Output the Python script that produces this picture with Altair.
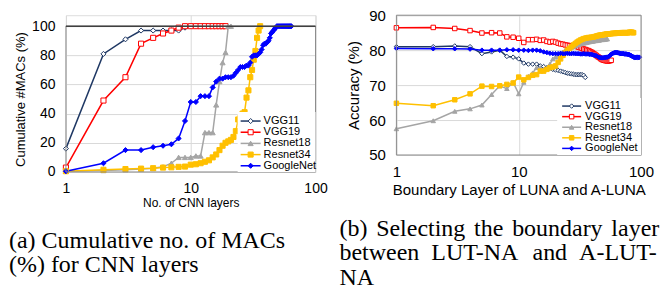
import altair as alt
import pandas as pd

SANS = "Liberation Sans"
SERIF = "Liberation Serif"

SERIES = ["VGG11", "VGG19", "Resnet18", "Resnet34", "GoogleNet"]
COLORS = ["#1F3864", "#FF0000", "#A5A5A5", "#FFC000", "#0000FF"]
SHAPES = ["diamond", "square", "triangle-up", "square", "diamond"]
FILLS = ["#FFFFFF", "#FFFFFF", "#A5A5A5", "#FFC000", "#0000FF"]

# ---- panel (a): cumulative #MACs (%) per layer index 1..n
a_vgg11 = [16, 81, 91, 97, 97, 97, 97, 97, 99, 100, 100]
a_vgg19 = [3, 49, 65, 88, 92, 95, 97, 99, 100, 100, 100, 100, 100, 100, 100, 100, 100, 100, 100]
a_res18 = [0.5, 1, 1.5, 2, 2.5, 3.5, 6, 10, 10, 10, 11, 11, 27, 27, 27, 46, 62, 75, 82, 100, 100]
a_res34 = [0.5, 1.5, 2, 2.3, 2.6, 3, 3.2, 3.5, 3.7, 5, 5.3, 6, 7, 8, 10, 12, 15, 18, 20, 21,
           22, 24, 28, 36, 37, 40, 41, 51, 56, 65, 70, 77, 83, 92, 97, 100]
a_goog = [0.5, 6, 15, 15, 17, 18, 19, 23, 35, 48, 48, 52, 52, 52, 58, 62, 64, 64, 65, 65,
          65, 66, 68, 70, 72, 72, 72, 73, 73, 75, 79, 80, 80, 80, 81, 82, 84, 87, 88, 88,
          89, 90, 92, 95, 96, 97, 98, 99, 100, 100, 100, 100, 100, 100, 100, 100, 100, 100, 100, 100,
          100, 100, 100, 100]

# ---- panel (b): accuracy (%) vs boundary layer 1..n
b_vgg11 = [81, 81, 81.2, 81, 79, 79.5, 80, 78.2, 78, 77.5, 76.3, 76, 76, 76, 75.5, 75.3, 75, 74.8, 74.5, 74.3,
           74.2, 74, 73.8, 73.6, 73.4, 73.3, 73.2, 73.1, 73, 73, 73, 73, 73, 72.8, 72.2]
b_vgg19 = [86.4, 86.5, 86.2, 85.6, 84.9, 85, 84.9, 83.8, 83.7, 83.4, 82.2, 83, 83, 83.1, 82.8, 82.9, 82.5, 82.3, 82.5, 82.3,
           82, 81.8, 81.7, 81.5, 81.4, 81.3, 81.2, 81.2, 81.1, 81, 80.8, 80.7, 80.5, 80.3, 80.2, 80, 79.9, 79.7, 79.5, 79.3,
           79, 78.8, 78.5, 78.2, 78, 77.8, 77.5, 77.3, 77.2, 77.1, 77, 77, 76.9, 76.9, 77, 77, 77.1]
b_res18 = [57.5, 59.8, 62.5, 63.2, 64.3, 67.3, 69.8, 69, 70.8, 67.5, 70.8, 72.5, 73.5, 75, 75, 74.5, 75, 76, 77.5, 78,
           78.5, 79, 79.5, 80, 80.3, 80.5, 80.8, 81, 81.2, 81.5, 81.6, 81.8, 82, 82, 82.1, 82.2, 82.3, 82.4, 82.5, 82.5,
           82.6, 82.7, 82.7, 82.8, 82.8, 82.9, 83, 83, 83, 83.1, 83.1, 83.2, 83.2]
b_res34 = [64.8, 64.1, 65.8, 67.5, 69.7, 69.6, 69.8, 70.2, 70.6, 72.3, 71.5, 72.2, 72.8, 73, 74, 74, 74.5, 75, 75.2, 75.5,
           76.5, 77.5, 78.5, 79.3, 80, 80.5, 81, 81.5, 81.9, 82.3, 82.6, 82.9, 83.1, 83.3, 83.4, 83.5, 83.6, 83.6, 83.7, 83.7,
           83.8, 83.9, 84, 84.1, 84.2, 84.3, 84.3, 84.4, 84.4, 84.5, 84.5, 84.6, 84.6, 84.6, 84.7, 84.7, 84.7, 84.8, 84.8, 84.8,
           84.8, 84.8, 84.9, 84.9, 84.9, 84.9, 84.9, 84.9, 85, 85, 85, 85, 85, 85, 85, 85, 85, 85, 85, 85.1,
           85.1, 85.1, 85.1, 85.1, 85.1, 85, 85]
b_goog = [80.5, 80.4, 80.4, 80.3, 80.0, 80.0, 80.0, 80.1, 80.1, 80.0,
          80.0, 79.9, 80.0, 80.0, 79.8, 79.5, 79.3, 79.1, 79.0, 79.0,
          79.0, 79.1, 79.0, 79.0, 79.1, 79.0, 79.0, 79.1, 79.0, 79.0,
          79.0, 78.9, 78.9, 79.0, 78.9, 78.9, 78.9, 78.8, 78.8, 78.7,
          78.6, 78.5, 78.4, 78.2, 78.0, 77.9, 77.8, 77.8, 77.8, 77.9,
          77.9, 78.0, 78.0, 78.1, 78.3, 78.6, 78.8, 79.0, 79.1, 79.2,
          79.3, 79.3, 79.3, 79.3, 79.2, 79.2, 79.1, 79.0, 79.0, 79.0,
          79.0, 79.0, 78.9, 78.9, 78.9, 78.9, 78.8, 78.8, 78.8, 78.7,
          78.6, 78.5, 78.4, 78.3, 78.2, 78.1, 78.0, 78.0, 77.9, 77.9,
          77.9, 78.0, 78.0, 78.0, 77.9, 77.9, 78.0]

# captions: each line is a list of words (justified lines are spread over the column width)
CAPTION_A = [["(a) Cumulative no. of MACs"], ["(%) for CNN layers"]]
CAPTION_B = [["(b)", "Selecting", "the", "boundary", "layer"],
             ["between", "LUT-NA", "and", "A-LUT-"],
             ["NA"]]


def long_df(lists):
    rows = []
    for k, (name, vals) in enumerate(zip(SERIES, lists)):
        for i, v in enumerate(vals, start=1):
            rows.append({"series": name, "k": k, "layer": i, "value": v})
    return pd.DataFrame(rows)


one = pd.DataFrame({"d": [0]})
GRID = "#d9d9d9"
FRAME = "#8c8c8c"


def panel(df, W, top, H, ydom, yvals, ytitle, xtitle, lab_fs, ytitle_fs, xtitle_fs,
          ylabpad, ytitlepad, xlabpad, xtitlepad, msize, leg, caption, cap_xy, cap_fs, top_rule=None):
    x = alt.X("layer:Q",
              scale=alt.Scale(type="log", domain=[1, 100], nice=False),
              axis=alt.Axis(values=[1, 10, 100], format="d", title=xtitle, ticks=False, domain=False,
                            labelFontSize=lab_fs, titleFontSize=xtitle_fs, titleFontWeight="normal",
                            labelPadding=xlabpad, titlePadding=xtitlepad, grid=True, gridColor=GRID,
                            labelFont=SANS, titleFont=SANS, labelColor="#000000", titleColor="#000000",
                            labelFlush=False))
    y = alt.Y("value:Q",
              scale=alt.Scale(domain=ydom, nice=False, zero=False, range=[H, top]),
              axis=alt.Axis(values=yvals, title=ytitle, ticks=False, domain=False,
                            labelFontSize=lab_fs, titleFontSize=ytitle_fs, titleFontWeight="normal",
                            labelPadding=ylabpad, titlePadding=ytitlepad, grid=True, gridColor=GRID,
                            labelFont=SANS, titleFont=SANS, labelColor="#000000", titleColor="#000000"))
    color = alt.Color("series:N", scale=alt.Scale(domain=SERIES, range=COLORS), legend=None)
    base = alt.Chart(df)
    lines = base.mark_line(strokeWidth=1.5).encode(x=x, y=y, color=color, detail="series:N")
    pts = base.mark_point(filled=False, opacity=1, fillOpacity=1, size=msize, strokeWidth=1).encode(
        x=x, y=y, color=color,
        shape=alt.Shape("series:N", scale=alt.Scale(domain=SERIES, range=SHAPES), legend=None),
        fill=alt.Fill("series:N", scale=alt.Scale(domain=SERIES, range=FILLS), legend=None),
        order=alt.Order("k:Q"))
    layers = [lines, pts]
    # plot frame
    layers.append(alt.Chart(one).mark_rect(filled=False, stroke=FRAME, strokeWidth=1).encode(
        x=alt.value(0), x2=alt.value(W), y=alt.value(top), y2=alt.value(H)))
    if top_rule is not None:
        layers.append(alt.Chart(one).mark_rule(color=top_rule, strokeWidth=1.5).encode(
            x=alt.value(0), x2=alt.value(W), y=alt.value(top)))
    # legend box and entries
    bx0, bx1, by0, by1, lx0, lx1, tx, ly0, dy, lfs = leg
    layers.append(alt.Chart(one).mark_rect(fill="white").encode(
        x=alt.value(bx0), x2=alt.value(bx1), y=alt.value(by0), y2=alt.value(by1)))
    for i, name in enumerate(SERIES):
        yy = ly0 + i * dy
        layers.append(alt.Chart(one).mark_rule(color=COLORS[i], strokeWidth=1.5).encode(
            x=alt.value(lx0), x2=alt.value(lx1), y=alt.value(yy)))
        layers.append(alt.Chart(one).mark_point(shape=SHAPES[i], filled=False, fill=FILLS[i], stroke=COLORS[i],
                                                opacity=1, fillOpacity=1, size=msize, strokeWidth=1).encode(
            x=alt.value((lx0 + lx1) / 2), y=alt.value(yy)))
        layers.append(alt.Chart(one).mark_text(text=name, align="left", baseline="middle", font=SANS,
                                               fontSize=lfs, color="#000000").encode(
            x=alt.value(tx), y=alt.value(yy)))
    # caption below the panel
    for words, (xs, yy) in zip(caption, cap_xy):
        for w, xx in zip(words, xs):
            layers.append(alt.Chart(one).mark_text(text=w, align="left", baseline="middle", font=SERIF,
                                                   fontSize=cap_fs, color="#000000").encode(
                x=alt.value(xx), y=alt.value(yy)))
    return alt.layer(*layers).properties(width=W, height=H)


dfa = long_df([a_vgg11, a_vgg19, a_res18, a_res34, a_goog])
dfb = long_df([b_vgg11, b_vgg19, b_res18, b_res34, b_goog])

# panel (a): plot area starts 11 px below panel (b)'s top
pa = panel(dfa, 250, 11, 157, [0, 100], [0, 20, 40, 60, 80, 100], "Cumulative #MACs (%)", "No. of CNN layers",
           14, 13, 12, 11, 4, 10, 2, 26,
           (172, 250, 97, 157, 175, 195, 198, 106, 11.2, 11),
           CAPTION_A, [([-57], 226), ([-57], 250.5)], 24, top_rule="#404040")
pb = panel(dfb, 245, 0, 140, [50, 90], [50, 60, 70, 80, 90], "Accuracy (%)", "Boundary Layer of LUNA and A-LUNA",
           15, 15, 15, 11, 7, 10, 3, 20,
           (161, 245, 83, 140, 166, 185, 189, 91, 10.6, 11),
           CAPTION_B, [([-57, -20.3, 77.8, 115.9, 215.3], 214), ([-57, 35, 136.3, 183], 238.5), ([-57], 263)], 24)

chart = alt.hconcat(pa, pb, spacing=10).properties(
    padding={"top": -1, "left": 0, "right": 0, "bottom": 0}).configure_view(
    strokeWidth=0).configure(font=SANS)

chart.save("out.html", embed_options={"renderer": "svg", "actions": False})
